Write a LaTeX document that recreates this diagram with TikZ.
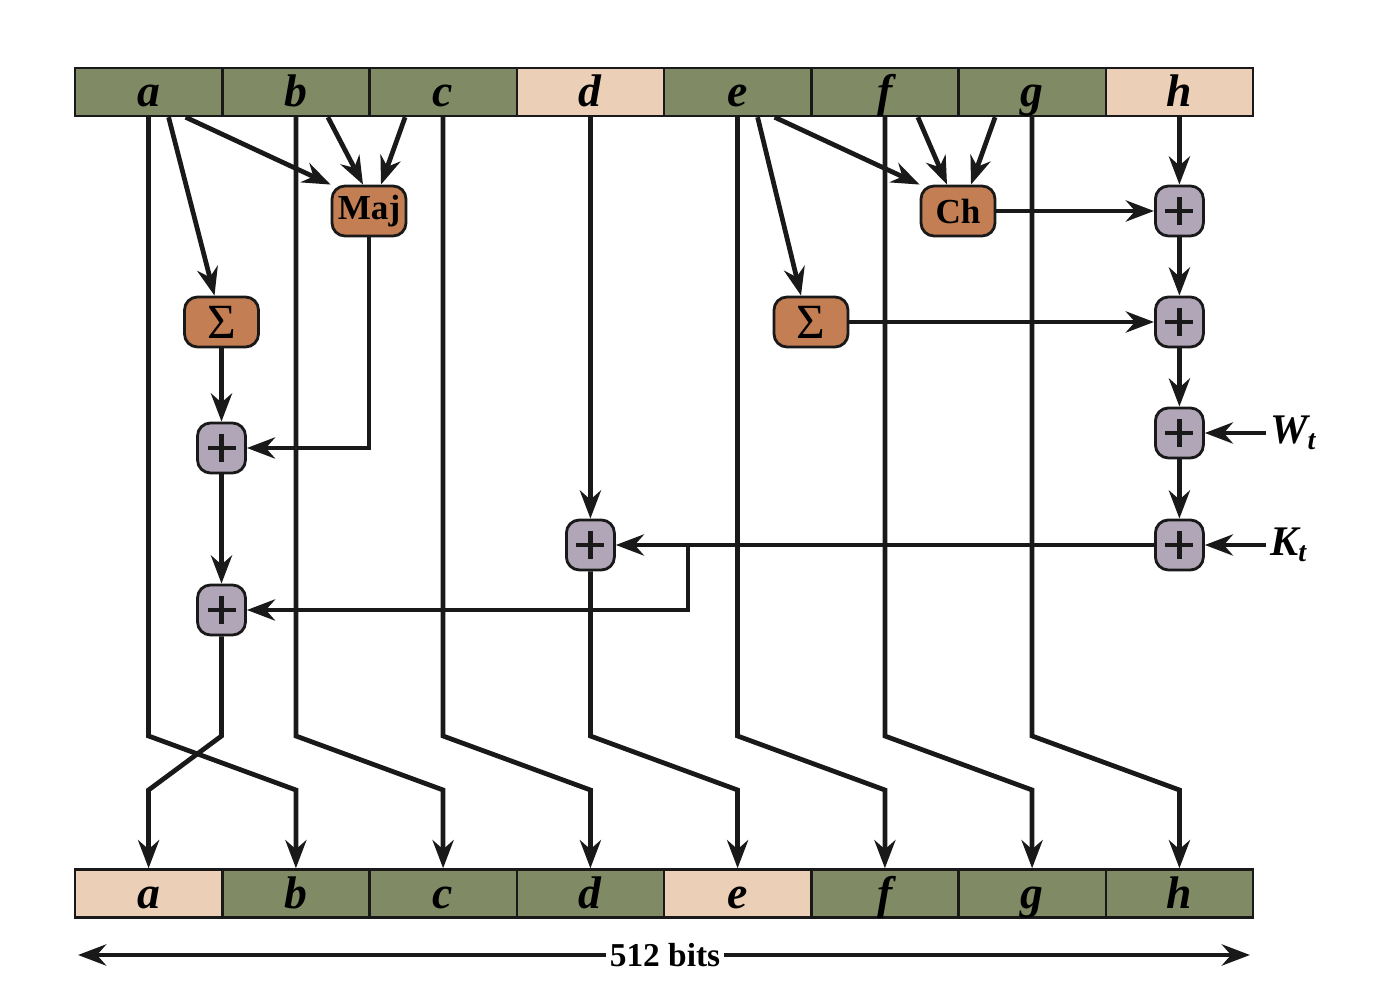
\documentclass[tikz,border=0pt]{standalone}
\usepackage{fontspec}
\setmainfont{Liberation Serif}
\usepackage{tikz}
\usetikzlibrary{arrows.meta, positioning}

\definecolor{wordGreen}{RGB}{128,139,101}
\definecolor{wordPeach}{RGB}{235,207,182}
\definecolor{funcOrange}{RGB}{196,126,84}
\definecolor{addGray}{RGB}{177,166,184}

\begin{document}
\begin{tikzpicture}[
  word/.style={rectangle, draw=black!90, line width=0.7pt, fill=wordGreen, minimum width=1.4725cm, minimum height=0.48cm, inner sep=0pt, text height=0.36cm, text depth=0.06cm, font=\fontsize{13}{13}\selectfont\bfseries\itshape},
  fresh/.style={word, fill=wordPeach},
  func/.style={rectangle, rounded corners=1.3mm, draw=black!90, line width=0.8pt, fill=funcOrange, minimum width=0.74cm, minimum height=0.5cm, inner sep=0pt, font=\fontsize{10}{10}\selectfont\bfseries},
  adder/.style={rectangle, rounded corners=1.3mm, draw=black!90, line width=0.8pt, fill=addGray, minimum width=0.48cm, minimum height=0.5cm, inner sep=0pt,
    path picture={\draw[line width=1.2pt, black!90] ([xshift=-1.4mm]path picture bounding box.center) -- ([xshift=1.4mm]path picture bounding box.center)
      ([yshift=-1.4mm]path picture bounding box.center) -- ([yshift=1.4mm]path picture bounding box.center);}},
  edge/.style={draw=black!90, line width=1.35pt},
  flow/.style={edge, -{Stealth[length=8pt, width=6pt, inset=2.6pt]}}
]
\useasboundingbox (0,0) rectangle (13.91,-10);

% Input words
\node[word] (ta) at (1.486,-0.92) {a};
\node[word] (tb) at (2.959,-0.92) {b};
\node[word] (tc) at (4.431,-0.92) {c};
\node[fresh] (td) at (5.904,-0.92) {d};
\node[word] (te) at (7.376,-0.92) {e};
\node[word] (tf) at (8.849,-0.92) {f};
\node[word] (tg) at (10.321,-0.92) {g};
\node[fresh] (th) at (11.794,-0.92) {h};

% Output words
\node[fresh] (ba) at (1.486,-8.935) {a};
\node[word] (bb) at (2.959,-8.935) {b};
\node[word] (bc) at (4.431,-8.935) {c};
\node[word] (bd) at (5.904,-8.935) {d};
\node[fresh] (be) at (7.376,-8.935) {e};
\node[word] (bf) at (8.849,-8.935) {f};
\node[word] (bg) at (10.321,-8.935) {g};
\node[word] (bh) at (11.794,-8.935) {h};

% Functions
\node[func] (maj) at (3.69,-2.11) {Maj};
\node[func] (ch) at (9.58,-2.11) {Ch};
\node[func, font=\fontsize{14}{14}\selectfont] (sigA) at (2.215,-3.22) {Σ};
\node[func, font=\fontsize{14}{14}\selectfont] (sigE) at (8.11,-3.22) {Σ};

% Adders
\node[adder] (addA1) at (2.215,-4.48) {};
\node[adder] (addA2) at (2.215,-6.10) {};
\node[adder] (addD) at (5.904,-5.45) {};
\node[adder] (addH1) at (11.794,-2.11) {};
\node[adder] (addH2) at (11.794,-3.22) {};
\node[adder] (addH3) at (11.794,-4.33) {};
\node[adder] (addH4) at (11.794,-5.45) {};

% Round inputs
\node[anchor=west, inner sep=1pt, font=\fontsize{12}{12}\selectfont\bfseries\itshape] (wt) at (12.66,-4.33) {W\textsubscript{t}};
\node[anchor=west, inner sep=1pt, font=\fontsize{12}{12}\selectfont\bfseries\itshape] (kt) at (12.66,-5.45) {K\textsubscript{t}};

% Bend levels
\coordinate (bendtop) at (0,-7.36);
\coordinate (bendbot) at (0,-7.90);
\coordinate (branch) at (6.88,-5.45);

% Maj and Sigma inputs
\draw[flow] ([xshift=2mm]ta.south) -- ([xshift=-0.7mm]sigA.north);
\draw[flow] ([xshift=3.7mm]ta.south) -- (maj.north west);
\draw[flow] ([xshift=3.2mm]tb.south) -- ([xshift=-0.6mm]maj.north);
\draw[flow] ([xshift=-3.8mm]tc.south) -- ([xshift=1.2mm]maj.north);

% Ch and Sigma inputs
\draw[flow] ([xshift=2mm]te.south) -- ([xshift=-1mm]sigE.north);
\draw[flow] ([xshift=3.7mm]te.south) -- (ch.north west);
\draw[flow] ([xshift=3.3mm]tf.south) -- ([xshift=-1.1mm]ch.north);
\draw[flow] ([xshift=-3.7mm]tg.south) -- ([xshift=1.3mm]ch.north);

% h chain
\draw[flow] (th) -- (addH1);
\draw[flow] (ch) -- (addH1);
\draw[flow] (addH1) -- (addH2);
\draw[flow] (sigE) -- (addH2);
\draw[flow] (addH2) -- (addH3);
\draw[flow] (wt.west) -- (addH3);
\draw[flow] (addH3) -- (addH4);
\draw[flow] (kt.west) -- (addH4);
\draw[flow] (addH4) -- (addD);
\draw[flow] (branch) |- (addA2);

% a chain
\draw[flow] (sigA) -- (addA1);
\draw[flow] (maj.south) |- (addA1);
\draw[flow] (addA1) -- (addA2);
\draw[flow] (td) -- (addD);

% Shift to output
\draw[flow] (addA2.south) -- (addA2 |- bendtop) -- (ba |- bendbot) -- (ba.north);
\draw[flow] (ta.south) -- (ta |- bendtop) -- (bb |- bendbot) -- (bb.north);
\draw[flow] (tb.south) -- (tb |- bendtop) -- (bc |- bendbot) -- (bc.north);
\draw[flow] (tc.south) -- (tc |- bendtop) -- (bd |- bendbot) -- (bd.north);
\draw[flow] (addD.south) -- (addD |- bendtop) -- (be |- bendbot) -- (be.north);
\draw[flow] (te.south) -- (te |- bendtop) -- (bf |- bendbot) -- (bf.north);
\draw[flow] (tf.south) -- (tf |- bendtop) -- (bg |- bendbot) -- (bg.north);
\draw[flow] (tg.south) -- (tg |- bendtop) -- (bh |- bendbot) -- (bh.north);

% Width
\node[inner sep=1pt, font=\fontsize{9.5}{10}\selectfont\bfseries] (bits) at (6.65,-9.55) {512 bits};
\coordinate (bitsL) at (0.78,-9.55);
\coordinate (bitsR) at (12.50,-9.55);
\draw[flow] (bits.west) -- (bitsL);
\draw[flow] (bits.east) -- (bitsR);

\end{tikzpicture}
\end{document}
